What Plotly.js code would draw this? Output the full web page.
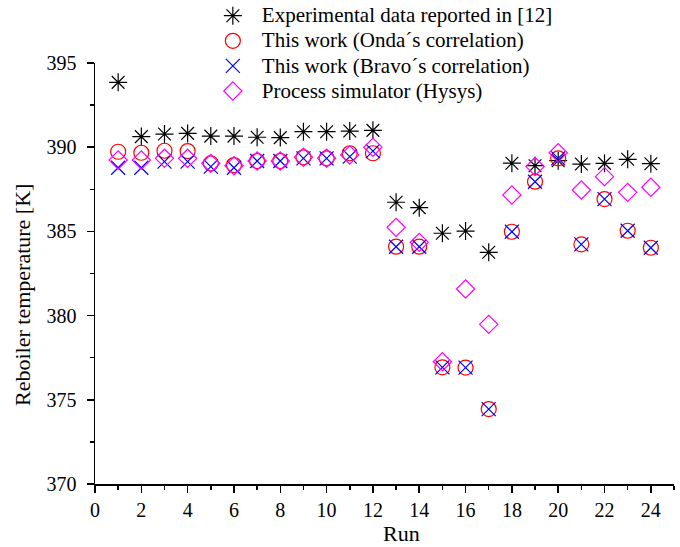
<!DOCTYPE html>
<html>
<head>
<meta charset="utf-8">
<script src="https://cdn.plot.ly/plotly-3.0.1.min.js"></script>
<style>
  html, body { margin: 0; padding: 0; background: #fff; }
  #chart { width: 680px; height: 547px; }
  /* legend rows keep a tight pitch while the labels are drawn larger */
  #chart .legend .legendtext { font-size: 21px !important; }
  #chart .legend .scrollbox, #chart .legend g { clip-path: none !important; }
</style>
</head>
<body>
<div id="chart"></div>
<script>
// Run numbers
const runs = [1, 2, 3, 4, 5, 6, 7, 8, 9, 10, 11, 12, 13, 14, 15, 16, 17, 18, 19, 20, 21, 22, 23, 24];

// Reboiler temperature [K]
const experimental = [393.85, 390.63, 390.78, 390.82, 390.66, 390.66, 390.59, 390.57, 390.92, 390.92, 390.96, 391.0,
                      386.73, 386.41, 384.89, 385.02, 383.76, 389.05, 388.9, 389.2, 389.0, 389.04, 389.28, 389.02];
const onda         = [389.73, 389.67, 389.79, 389.77, 389.04, 388.94, 389.18, 389.18, 389.4, 389.34, 389.64, 389.64,
                      384.09, 384.09, 376.93, 376.91, 374.45, 384.98, 387.95, 389.34, 384.23, 386.92, 385.04, 384.03];
const bravo        = [388.78, 388.78, 389.14, 389.14, 388.85, 388.78, 389.18, 389.18, 389.34, 389.34, 389.44, 389.77,
                      384.09, 384.09, 376.93, 376.91, 374.45, 384.98, 387.95, 389.34, 384.23, 386.92, 385.04, 384.03];
const hysys        = [389.24, 389.24, 389.34, 389.34, 389.04, 388.9, 389.18, 389.18, 389.4, 389.34, 389.54, 390.0,
                      385.24, 384.35, 377.26, 381.58, 379.48, 387.16, 388.85, 389.67, 387.46, 388.25, 387.32, 387.62];

const seriesNames = [
  'Experimental data reported in [12]',
  'This work (Onda\u00b4s correlation)',
  'This work (Bravo\u00b4s correlation)',
  'Process simulator (Hysys)'
];

const xTitle = 'Run';
const yTitle = 'Reboiler temperature [K]';

const serif = 'Liberation Serif, Times New Roman, serif';

const traces = [
  { x: runs, y: experimental, name: seriesNames[0], type: 'scatter', mode: 'markers',
    marker: { symbol: 'asterisk-open', size: 15, color: '#000000', line: { color: '#000000', width: 1.2 } } },
  { x: runs, y: onda, name: seriesNames[1], type: 'scatter', mode: 'markers',
    marker: { symbol: 'circle-open', size: 15, color: '#ff0000', line: { color: '#ff0000', width: 1.2 } } },
  { x: runs, y: bravo, name: seriesNames[2], type: 'scatter', mode: 'markers',
    marker: { symbol: 'x-thin-open', size: 14, color: '#0000ff', line: { color: '#0000ff', width: 1.2 } } },
  { x: runs, y: hysys, name: seriesNames[3], type: 'scatter', mode: 'markers',
    marker: { symbol: 'diamond-open', size: 14, color: '#ff00ff', line: { color: '#ff00ff', width: 1.2 } } }
];

const axisCommon = {
  showgrid: false, zeroline: false, showline: true,
  linecolor: '#000', linewidth: 1.5,
  ticks: 'outside', ticklen: 7, tickwidth: 1.5, tickcolor: '#000',
  tickfont: { family: serif, size: 20, color: '#000' }
};

const titleFont = { family: serif, size: 22, color: '#000' };

const layout = {
  width: 680, height: 547,
  margin: { l: 95, r: 6, t: 63, b: 63, autoexpand: false },
  paper_bgcolor: '#fff', plot_bgcolor: '#fff',
  showlegend: true,
  legend: {
    x: 0.188, xanchor: 'left', y: 1.154, yanchor: 'top',
    itemwidth: 48,
    bgcolor: 'rgba(0,0,0,0)',
    font: { family: serif, size: 17, color: '#000' }
  },
  xaxis: Object.assign({}, axisCommon, {
    range: [0, 25], tickmode: 'linear', tick0: 0, dtick: 2,
    minor: { dtick: 1, ticks: 'outside', ticklen: 4, tickwidth: 1.5, tickcolor: '#000' }
  }),
  yaxis: Object.assign({}, axisCommon, {
    range: [370, 395], tickmode: 'linear', tick0: 370, dtick: 5,
    ticklabelstandoff: 6,
    minor: { dtick: 2.5, ticks: 'outside', ticklen: 4, tickwidth: 1.5, tickcolor: '#000' }
  }),
  annotations: [
    { text: xTitle, xref: 'paper', yref: 'paper', x: 0.53, y: -0.1164,
      xanchor: 'center', yanchor: 'middle', showarrow: false, font: titleFont },
    { text: yTitle, xref: 'paper', yref: 'paper', x: -0.1244, y: 0.449, textangle: -90,
      xanchor: 'center', yanchor: 'middle', showarrow: false, font: titleFont }
  ]
};

Plotly.newPlot('chart', traces, layout, { displayModeBar: false, staticPlot: true });
</script>
</body>
</html>
